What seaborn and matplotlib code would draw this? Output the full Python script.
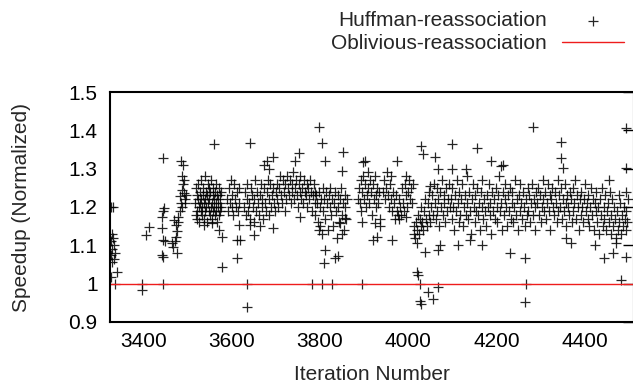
import numpy as np
import pandas as pd
import matplotlib
matplotlib.use('Agg')
import matplotlib.pyplot as plt
from matplotlib.ticker import FormatStrFormatter
import seaborn as sns

# ---------------------------------------------------------------------
# Dados (iteracao, speedup normalizado)
# ---------------------------------------------------------------------

# pontos esparsos / isolados
sparse_x = [3327, 3331, 3329, 3332, 3327, 3335, 3329, 3337, 3327, 3333, 3329, 3341, 3327, 3337,
            3397, 3397, 3407, 3413,
            3446, 3446, 3442, 3443, 3448, 3446, 3450, 3442, 3446, 3444,
            3466, 3473, 3476, 3475, 3470, 3475, 3480, 3483, 3487, 3483, 3494, 3490, 3487, 3486,
            3490, 3492, 3495, 3480, 3476, 3489, 3493, 3497, 3485, 3468,
            3560, 3643, 3578, 3612, 3635, 3635, 3618, 3612, 3620, 3578, 3571, 3537, 3556, 3650,
            3643, 3665, 3694, 3695, 3680, 3686, 3673,
            3752, 3744, 3797, 3804, 3853, 3850, 3812, 3812, 3810, 3835, 3842, 3782, 3804, 3827,
            3895, 3755, 3797, 3801, 3846, 3850, 3857, 3895, 3898,
            3902, 3921, 3929, 3925, 3936, 3974, 3963, 3996, 4019, 4023, 4026, 4026, 4030, 4045,
            4057, 4068, 4030, 4034, 4060, 4068, 4049, 4019, 4038, 4068, 4072,
            4098, 4155, 4188, 4211, 4214, 4283, 4113, 4139, 4166, 4230, 4264, 4267, 4264, 4100, 4130,
            4346, 4346, 4350, 4444, 4463, 4482, 4493, 4493, 4493, 4471, 4422, 4369, 4358, 4455, 4493]
sparse_y = [1.2, 1.2, 1.13, 1.12, 1.11, 1.10, 1.09, 1.08, 1.075, 1.065, 1.057, 1.03, 1.018, 1.0,
            1.0, 0.983, 1.127, 1.147,
            1.329, 1.0, 1.175, 1.145, 1.197, 1.114, 1.11, 1.075, 1.07, 1.19,
            1.105, 1.11, 1.08, 1.123, 1.167, 1.154, 1.175, 1.19, 1.2, 1.228, 1.22, 1.26, 1.28, 1.32,
            1.31, 1.237, 1.21, 1.16, 1.137, 1.245, 1.27, 1.23, 1.21, 1.095,
            1.364, 1.368, 1.044, 1.066, 1.0, 0.94, 1.153, 1.114, 1.114, 1.123, 1.14, 1.153, 1.158, 1.127,
            1.153, 1.15, 1.145, 1.33, 1.32, 1.30, 1.31,
            1.342, 1.32, 1.41, 1.367, 1.344, 1.294, 1.32, 1.088, 1.053, 1.066, 1.072, 1.0, 1.0, 1.0,
            1.0, 1.175, 1.14, 1.15, 1.158, 1.13, 1.171, 1.162, 1.317,
            1.32, 1.114, 1.123, 1.158, 1.15, 1.32, 1.114, 1.175, 1.03, 1.022, 1.0, 0.956, 0.947, 0.978,
            0.96, 0.991, 1.36, 1.338, 1.33, 1.30, 1.254, 1.105, 1.083, 1.088, 1.10,
            1.364, 1.355, 1.32, 1.307, 1.31, 1.41, 1.10, 1.114, 1.10, 1.079, 1.066, 1.0, 0.952, 1.30, 1.30,
            1.37, 1.327, 1.303, 1.066, 1.079, 1.009, 1.405, 1.303, 1.07, 1.105, 1.10, 1.105, 1.118, 1.27, 1.24]

# trechos densos: iteracao inicial, passo e valores
dense_starts = [3518, 3590, 3628, 3790, 3886, 3944, 4012, 4096, 4292]
dense_steps = [1, 2, 2, 2, 2, 2, 2, 2, 2]
dense_vals = [
    [1.21, 1.18, 1.25, 1.19, 1.23, 1.17, 1.22, 1.26, 1.20, 1.16,
     1.24, 1.21, 1.19, 1.27, 1.22, 1.18, 1.20, 1.25, 1.23, 1.17,
     1.21, 1.28, 1.19, 1.22, 1.24, 1.20, 1.16, 1.23, 1.26, 1.21,
     1.19, 1.25, 1.22, 1.18, 1.24, 1.20, 1.27, 1.21, 1.17, 1.23,
     1.19, 1.25, 1.22, 1.20, 1.18, 1.24, 1.21, 1.26, 1.19, 1.23,
     1.16, 1.22, 1.20, 1.25, 1.18, 1.21, 1.23, 1.19, 1.24, 1.20],
    [1.22, 1.19, 1.25, 1.21, 1.27, 1.20, 1.23, 1.18, 1.26, 1.22, 1.20, 1.24, 1.19, 1.21, 1.25],
    [1.20, 1.24, 1.18, 1.22, 1.26, 1.19, 1.21, 1.17, 1.25, 1.23,
     1.20, 1.16, 1.22, 1.27, 1.19, 1.24, 1.21, 1.18, 1.23, 1.26,
     1.20, 1.22, 1.17, 1.25, 1.21, 1.19, 1.24, 1.27, 1.22, 1.18,
     1.26, 1.20, 1.23, 1.25, 1.21, 1.19, 1.24,
     1.22, 1.26, 1.20, 1.25, 1.28, 1.23, 1.21, 1.27, 1.24, 1.19,
     1.26, 1.22, 1.28, 1.25, 1.23, 1.27, 1.21, 1.24, 1.26, 1.29,
     1.22, 1.25, 1.27, 1.23, 1.20, 1.26, 1.24, 1.28, 1.22, 1.25,
     1.21, 1.27, 1.24, 1.23, 1.26, 1.20, 1.25, 1.22, 1.27, 1.24,
     1.19, 1.23, 1.26, 1.21, 1.24],
    [1.18, 1.23, 1.21, 1.16, 1.24, 1.20, 1.22, 1.13, 1.25, 1.19,
     1.22, 1.17, 1.24, 1.21, 1.14, 1.23, 1.20, 1.25, 1.18, 1.22,
     1.15, 1.21, 1.24, 1.19, 1.12, 1.23, 1.20, 1.16, 1.22, 1.25,
     1.18, 1.21, 1.14, 1.23, 1.20, 1.17, 1.22],
    [1.22, 1.25, 1.21, 1.27, 1.19, 1.24, 1.28, 1.22, 1.26, 1.20,
     1.23, 1.29, 1.25, 1.21, 1.27, 1.24, 1.18, 1.26, 1.22, 1.28,
     1.23, 1.20, 1.25, 1.21, 1.24, 1.17],
    [1.24, 1.27, 1.22, 1.25, 1.29, 1.23, 1.20, 1.26, 1.22, 1.28,
     1.19, 1.24, 1.21, 1.17, 1.23, 1.19, 1.18, 1.22, 1.17, 1.20,
     1.18, 1.25, 1.21, 1.19, 1.26, 1.23, 1.28, 1.20, 1.24, 1.27,
     1.22, 1.25, 1.21, 1.26],
    [1.13, 1.15, 1.12, 1.16, 1.14, 1.18, 1.13, 1.17, 1.15, 1.20,
     1.16, 1.14, 1.19, 1.22, 1.17, 1.15, 1.21, 1.18, 1.24, 1.16,
     1.20, 1.23, 1.18, 1.26, 1.21, 1.17, 1.25, 1.19, 1.22, 1.15,
     1.24, 1.20, 1.27, 1.18, 1.23, 1.21, 1.16, 1.25, 1.19, 1.22,
     1.26, 1.20],
    [1.22, 1.17, 1.25, 1.20, 1.14, 1.23, 1.19, 1.27, 1.21, 1.16,
     1.24, 1.18, 1.22, 1.26, 1.15, 1.20, 1.23, 1.18, 1.28, 1.21,
     1.17, 1.24, 1.19, 1.13, 1.22, 1.26, 1.20, 1.16, 1.23, 1.19,
     1.25, 1.18, 1.21, 1.14, 1.24, 1.20, 1.27, 1.17, 1.22, 1.19,
     1.15, 1.23, 1.20, 1.26, 1.18, 1.21, 1.13, 1.24, 1.19, 1.22,
     1.17, 1.25, 1.20, 1.16, 1.23, 1.28, 1.19, 1.21, 1.14, 1.24,
     1.18, 1.22, 1.26, 1.20, 1.15, 1.23, 1.19, 1.25, 1.17, 1.21,
     1.24, 1.16, 1.20, 1.27, 1.18, 1.22, 1.14, 1.23, 1.19, 1.26,
     1.21, 1.17, 1.24, 1.20, 1.15, 1.22, 1.18, 1.25, 1.19, 1.23,
     1.16, 1.21, 1.26, 1.18, 1.22, 1.14, 1.20, 1.24],
    [1.21, 1.25, 1.18, 1.23, 1.16, 1.20, 1.27, 1.22, 1.19, 1.24,
     1.17, 1.21, 1.26, 1.19, 1.23, 1.14, 1.22, 1.25, 1.20, 1.18,
     1.24, 1.21, 1.16, 1.27, 1.19, 1.23, 1.20, 1.25, 1.17, 1.22,
     1.19, 1.26, 1.21, 1.15, 1.23, 1.20, 1.18, 1.24, 1.22, 1.16,
     1.25, 1.19, 1.21, 1.27, 1.17, 1.23, 1.20, 1.14, 1.22, 1.18,
     1.24, 1.20, 1.16, 1.22, 1.26, 1.19, 1.21, 1.17, 1.23, 1.15,
     1.20, 1.25, 1.18, 1.22, 1.14, 1.21, 1.19, 1.24, 1.16, 1.20,
     1.13, 1.22, 1.18, 1.25, 1.15, 1.20, 1.17, 1.23, 1.14, 1.19,
     1.21, 1.16, 1.24, 1.13, 1.18, 1.22, 1.15, 1.20, 1.17, 1.12,
     1.19, 1.14, 1.23, 1.16, 1.21, 1.13, 1.18, 1.15, 1.20, 1.17,
     1.14, 1.19, 1.16, 1.22],
]

oblivious_level = 1.0
x_ticks = [3400, 3600, 3800, 4000, 4200, 4400]
y_ticks = [0.9, 1.0, 1.1, 1.2, 1.3, 1.4, 1.5]

# montar o dataframe
xs = list(sparse_x)
ys = list(sparse_y)
for start, step, vals in zip(dense_starts, dense_steps, dense_vals):
    xs += [start + step * i for i in range(len(vals))]
    ys += vals
df = pd.DataFrame({'iteration': xs, 'speedup': ys})

# ---------------------------------------------------------------------
# Grafico
# ---------------------------------------------------------------------
sns.set_style('white')
plt.rcParams['font.family'] = ['Liberation Sans', 'DejaVu Sans']
fs = 15

fig = plt.figure(figsize=(6.33, 3.87), dpi=100)
ax = fig.add_axes([110 / 633, 65 / 387, 524 / 633, 230 / 387])

sns.scatterplot(
    data=df, x='iteration', y='speedup', marker='+', s=55,
    color='black', linewidth=0.9, alpha=0.85, label='Huffman-reassociation', ax=ax
)
ax.axhline(oblivious_level, color='#ee1c1c', lw=1.0, label='Oblivious-reassociation')

ax.set_xlim(3325, 4511)
ax.set_ylim(0.9, 1.5)
ax.set_xticks(x_ticks)
ax.set_yticks(y_ticks)
ax.yaxis.set_major_formatter(FormatStrFormatter('%g'))
ax.tick_params(direction='in', length=8, width=1, right=True, top=False,
               labelsize=fs, colors='black')
ax.tick_params(axis='x', pad=7)
ax.tick_params(axis='y', pad=9)
for s in ax.spines.values():
    s.set_visible(True)
    s.set_color('black')
    s.set_linewidth(1.5)

ax.set_xlabel('Iteration Number', fontsize=fs)
ax.set_ylabel('Speedup (Normalized)', fontsize=fs)
ax.xaxis.set_label_coords(0.5, -0.185)
ax.yaxis.set_label_coords(-0.15, 0.5)

# legenda no canto superior direito, texto antes do simbolo (estilo gnuplot)
handles, labels = ax.get_legend_handles_labels()
ax.get_legend().remove()
fig.legend(handles, labels, loc='upper right', bbox_to_anchor=(624 / 633, 1 - 11 / 387),
           frameon=False, markerfirst=False, borderpad=0, borderaxespad=0,
           handlelength=3.0, handletextpad=0.72, labelspacing=0.2, fontsize=fs)

plt.savefig('out.png', dpi=100)
plt.close()
